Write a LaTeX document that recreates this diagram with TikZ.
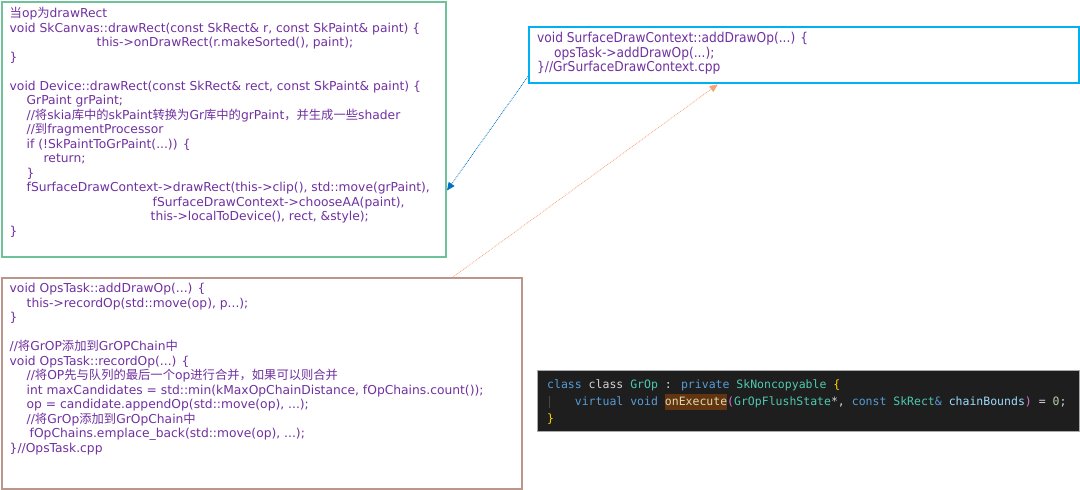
\documentclass[tikz,border=0pt]{standalone}
\usepackage{fontspec}
\setmainfont{DejaVu Sans}
\newfontfamily\cjk{Noto Sans CJK SC}
\newfontfamily\condfont{DejaVu Sans Condensed}
\newfontfamily\cmono{DejaVu Sans Mono}
\usetikzlibrary{arrows.meta}
\definecolor{codepurple}{RGB}{112,48,160}
\definecolor{gborder}{RGB}{110,193,152}
\definecolor{bborder}{RGB}{0,176,240}
\definecolor{rborder}{RGB}{188,150,138}
\definecolor{darkbg}{RGB}{30,30,30}
\definecolor{darkedge}{RGB}{170,170,170}
\definecolor{arrblue}{RGB}{0,112,192}
\definecolor{arrorange}{RGB}{244,165,120}
\definecolor{vkw}{RGB}{86,156,214}
\definecolor{vty}{RGB}{78,201,176}
\definecolor{vfn}{RGB}{220,220,170}
\definecolor{vpar}{RGB}{156,220,254}
\definecolor{vtxt}{RGB}{212,212,212}
\definecolor{vgold}{RGB}{255,215,0}
\definecolor{vorch}{RGB}{218,112,214}
\definecolor{vnum}{RGB}{181,206,168}
\definecolor{vhl}{RGB}{99,52,18}
\definecolor{vguide}{RGB}{70,70,70}
\newcommand{\fst}{\rule{0pt}{11pt}}
\newcommand{\mst}{\rule{0pt}{12pt}}
\newcommand{\ind}[1]{\hspace*{#1pt}}
\tikzset{
  box/.style={draw, rectangle, inner sep=0pt, anchor=north west},
  codetext/.style={anchor=north west, inner sep=0pt, align=left, text=codepurple,
    font=\fontsize{12.3}{14.5}\selectfont},
  monotext/.style={anchor=north west, inner sep=0pt, align=left,
    font=\cmono\fontsize{11.5}{17}\selectfont},
  link/.style={densely dotted, line width=0.8pt}
}
\begin{document}
\begin{tikzpicture}[x=1pt,y=-1pt]
\useasboundingbox (0,0) rectangle (1080,490);
% boxes
\node[box, draw=gborder, line width=2pt, minimum width=444pt, minimum height=255pt] (greenbox) at (1,1) {};
\node[box, draw=bborder, line width=2.4pt, minimum width=550pt, minimum height=56pt] (bluebox) at (528,26) {};
\node[box, draw=rborder, line width=2pt, minimum width=520pt, minimum height=211pt] (brownbox) at (1,277) {};
\node[box, draw=darkedge, fill=darkbg, line width=0.6pt, minimum width=542pt, minimum height=61pt] (darkbox) at (537,370) {};
% green text
\node[codetext] (gtext) at (9.5,6.5) {\fst{\cjk 当}op{\cjk 为}drawRect\\
void SkCanvas::drawRect(const SkRect\& r, const SkPaint\& paint) \{\\
\ind{87}this->onDrawRect(r.makeSorted(), paint);\\
\}\\
\mbox{}\\
void Device::drawRect(const SkRect\& rect, const SkPaint\& paint) \{\\
\ind{17}GrPaint grPaint;\\
\ind{17}//{\cjk 将}skia{\cjk 库中的}skPaint{\cjk 转换为}Gr{\cjk 库中的}grPaint{\cjk ，并生成一些}shader\\
\ind{17}//{\cjk 到}fragmentProcessor\\
\ind{17}if (!SkPaintToGrPaint(...)) \{\\
\ind{34}return;\\
\ind{17}\}\\
\ind{17}fSurfaceDrawContext->drawRect(this->clip(), std::move(grPaint),\\
\ind{143}fSurfaceDrawContext->chooseAA(paint),\\
\ind{141}this->localToDevice(), rect, \&style);\\
\}};
% blue text
\node[codetext, font=\condfont\fontsize{13.6}{14.5}\selectfont] (btext) at (537,31.5) {\fst void SurfaceDrawContext::addDrawOp(...) \{\\
\ind{17}opsTask->addDrawOp(...);\\
\}//GrSurfaceDrawContext.cpp};
% brown text
\node[codetext] (rtext) at (9.5,281.5) {\fst void OpsTask::addDrawOp(...) \{\\
\ind{17}this->recordOp(std::move(op), p...);\\
\}\\
\mbox{}\\
//{\cjk 将}GrOP{\cjk 添加到}GrOPChain{\cjk 中}\\
void OpsTask::recordOp(...) \{\\
\ind{17}//{\cjk 将}OP{\cjk 先与队列的最后一个}op{\cjk 进行合并，如果可以则合并}\\
\ind{17}int maxCandidates = std::min(kMaxOpChainDistance, fOpChains.count());\\
\ind{17}op = candidate.appendOp(std::move(op), ...);\\
\ind{17}//{\cjk 将}GrOp{\cjk 添加到}GrOpChain{\cjk 中}\\
\ind{20}fOpChains.emplace\_back(std::move(op), ...);\\
\}//OpsTask.cpp};
% dark code
\draw[vguide, line width=0.8pt] (549,396) -- (549,408);
\node[monotext] (dtext) at (547,376) {\mst\textcolor{vkw}{class} \textcolor{vtxt}{class} \textcolor{vty}{GrOp} \textcolor{vtxt}{:} \textcolor{vkw}{private} \textcolor{vty}{SkNoncopyable} \textcolor{vgold}{\{}\\
\phantom{xxxx}\textcolor{vkw}{virtual} \textcolor{vkw}{void} {\setlength{\fboxsep}{0pt}\colorbox{vhl}{\rule[-4.5pt]{0pt}{16pt}\textcolor{vfn}{onExecute}}}\textcolor{vorch}{(}\textcolor{vty}{GrOpFlushState}\textcolor{vtxt}{*,} \textcolor{vkw}{const} \textcolor{vty}{SkRect}\textcolor{vkw}{\&} \textcolor{vpar}{chainBounds}\textcolor{vorch}{)} \textcolor{vtxt}{=} \textcolor{vnum}{0}\textcolor{vtxt}{;}\\
\textcolor{vgold}{\}}};
% connectors
\draw[link, draw=arrblue, -{Triangle[length=8pt,width=7pt]}] ([yshift=8pt]bluebox.south west) -- ([yshift=-61pt]greenbox.east);
\draw[link, draw=arrorange, -{Triangle[length=8pt,width=7pt]}] ([xshift=191pt]brownbox.north) -- ([xshift=-86.5pt]bluebox.south);
\end{tikzpicture}
\end{document}
